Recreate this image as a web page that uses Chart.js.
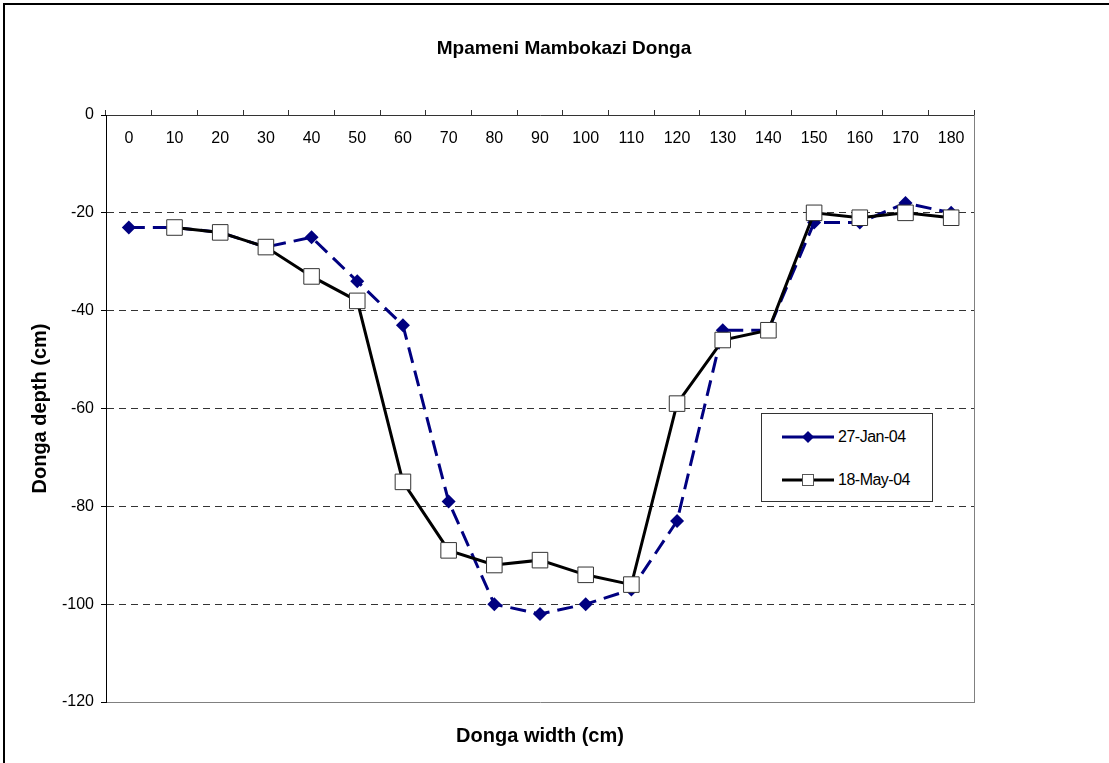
<!DOCTYPE html>
<html>
<head>
<meta charset="utf-8">
<script src="https://cdn.jsdelivr.net/npm/chart.js@4/dist/chart.umd.min.js"></script>
<style>
  html, body { margin: 0; padding: 0; background: #fff; overflow: hidden; }
  #marco { position: absolute; left: 3px; top: 3px; width: 1300px; height: 900px; border: 2px solid #000; }
  #lienzo { position: absolute; left: 0; top: 0; width: 1109px; height: 763px; }
  #leyenda { position: absolute; left: 761px; top: 413px; width: 170px; height: 87px; border: 1px solid #333; background: #fff;
             font-family: 'Liberation Sans', Arial, sans-serif; font-size: 16px; color: #000; }
  .fila { position: absolute; left: 20px; height: 20px; display: flex; align-items: center; letter-spacing: -0.5px; }
  .fila svg { margin-right: 4px; }
</style>
</head>
<body>
<div id="marco"></div>
<canvas id="lienzo" width="1109" height="763"></canvas>
<div id="leyenda"></div>
<script>
const anchos = [0, 10, 20, 30, 40, 50, 60, 70, 80, 90, 100, 110, 120, 130, 140, 150, 160, 170, 180];
const enero = [-23, -23, -24, -27, -25, -34, -43, -79, -100, -102, -100, -97, -83, -44, -44, -22, -22, -18, -20];
const mayo = [null, -23, -24, -27, -33, -38, -75, -89, -92, -91, -94, -96, -59, -46, -44, -20, -21, -20, -21];
const etiquetas = ['27-Jan-04', '18-May-04'];
const marcasY = [0, -20, -40, -60, -80, -100, -120];

const fuente = "'Liberation Sans', Arial, sans-serif";

// borde gris del area de trazado (derecha y abajo)
const ejeVacio = {
    display: true,
    ticks: {display: false},
    grid: {drawOnChartArea: false, drawTicks: false},
    border: {color: '#808080', width: 1}
};

// las etiquetas del eje x van por dentro, debajo de la linea del eje
const etiquetasDentro = {
    id: 'etiquetasDentro',
    afterDraw(chart) {
        const escala = chart.scales.x;
        const ctx = chart.ctx;
        ctx.save();
        ctx.fillStyle = '#000';
        ctx.font = '16px ' + fuente;
        ctx.textAlign = 'center';
        ctx.textBaseline = 'middle';
        escala.ticks.forEach((t, i) => {
            ctx.fillText(escala.getLabelForValue(t.value), escala.getPixelForTick(i), escala.bottom + 24);
        });
        ctx.restore();
    }
};

const datos = {
    labels: anchos,
    datasets: [{
        label: etiquetas[0],
        data: enero,
        borderColor: '#000080',
        backgroundColor: '#000080',
        borderWidth: 3,
        borderDash: [16, 8],
        pointStyle: 'rectRot',
        pointRadius: 7,
        pointBorderWidth: 0,
        pointBackgroundColor: '#000080',
        tension: 0,
        order: 2
    }, {
        label: etiquetas[1],
        data: mayo,
        borderColor: '#000',
        backgroundColor: '#fff',
        borderWidth: 3,
        pointStyle: 'rect',
        pointRadius: 11,
        pointBorderWidth: 1,
        pointBorderColor: '#333',
        pointBackgroundColor: '#fff',
        tension: 0,
        order: 1
    }]
};

const grafico = new Chart(document.querySelector('#lienzo'), {
    type: 'line',
    data: datos,
    plugins: [etiquetasDentro],
    options: {
        responsive: false,
        animation: false,
        layout: {padding: {left: 19, right: 0, top: 0, bottom: 0}},
        plugins: {
            legend: {display: false},
            tooltip: {enabled: false},
            title: {
                display: true,
                text: 'Mpameni Mambokazi Donga',
                color: '#000',
                font: {family: fuente, size: 19, weight: 'bold'},
                padding: {top: 37.6, bottom: 44.6}
            }
        },
        scales: {
            x: {
                type: 'category',
                position: 'top',
                offset: true,
                afterFit: s => { s.height = 10; },
                grid: {offset: true, drawOnChartArea: false, drawTicks: true, tickLength: 5, tickColor: '#333'},
                border: {color: '#333', width: 1},
                ticks: {display: false, autoSkip: false, maxRotation: 0}
            },
            x2: Object.assign({}, ejeVacio, {
                type: 'category',
                position: 'bottom',
                afterFit: s => { s.height = 61; },
                title: {
                    display: true,
                    text: 'Donga width (cm)',
                    color: '#000',
                    font: {family: fuente, size: 20, weight: 'bold'},
                    padding: {top: 0, bottom: 15}
                }
            }),
            y: {
                type: 'linear',
                position: 'left',
                min: -120,
                max: 0,
                afterFit: s => { s.width = 87; },
                afterBuildTicks: s => { s.ticks = marcasY.map(v => ({value: v})); },
                grid: {
                    color: c => (c.tick && (c.tick.value === 0 || c.tick.value === -120)) ? 'rgba(0,0,0,0)' : '#333',
                    lineWidth: 1,
                    tickLength: 5,
                    tickColor: '#000'
                },
                border: {color: '#000', width: 1, dash: [7, 5]},
                ticks: {padding: 7, color: '#000', font: {family: fuente, size: 16}},
                title: {
                    display: true,
                    text: 'Donga depth (cm)',
                    color: '#000',
                    font: {family: fuente, size: 20, weight: 'bold'},
                    padding: {top: 9, bottom: 0}
                }
            },
            y2: Object.assign({}, ejeVacio, {
                type: 'linear',
                position: 'right',
                afterFit: s => { s.width = 135; }
            })
        }
    }
});

// leyenda en html a partir de los datasets
const leyenda = document.querySelector('#leyenda');
const iconos = [
    '<svg width="52" height="16"><line x1="0" y1="8" x2="52" y2="8" stroke="#000080" stroke-width="3"/><polygon points="26,2 32,8 26,14 20,8" fill="#000080"/></svg>',
    '<svg width="52" height="16"><line x1="0" y1="8" x2="52" y2="8" stroke="#000" stroke-width="3"/><rect x="20.5" y="2.5" width="11" height="11" fill="#fff" stroke="#555" stroke-width="1"/></svg>'
];
const filasY = [13, 56];
grafico.data.datasets.forEach((ds, i) => {
    const fila = document.createElement('div');
    fila.className = 'fila';
    fila.style.top = filasY[i] + 'px';
    fila.innerHTML = iconos[i] + '<span>' + ds.label + '</span>';
    leyenda.appendChild(fila);
});
</script>
</body>
</html>
